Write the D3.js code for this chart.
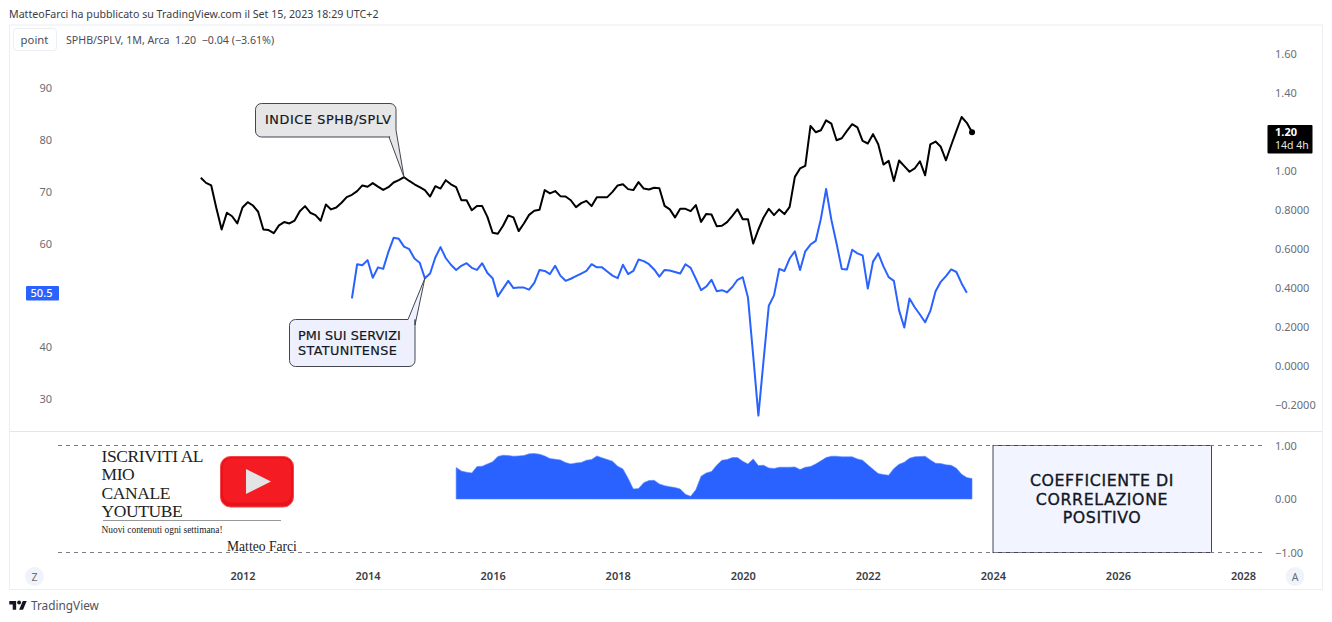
<!DOCTYPE html>
<html>
<head>
<meta charset="utf-8">
<script src="https://cdn.jsdelivr.net/npm/d3@7"></script>
<style>
  html, body { margin: 0; padding: 0; background: #fff; }
  svg { display: block; }
  text { font-family: "Noto Sans", sans-serif; }
  .serif { font-family: "Liberation Serif", serif; }
  .note { font-family: "DejaVu Sans", sans-serif; }
  .domain { display: none; }
</style>
</head>
<body>
<div id="chart"></div>
<script>
// months are counted from Jan 2012
const ratioStart = -8, pmiStart = 21, corrStart = 41

// SPHB/SPLV monthly close
const ratio = [0.965,0.939,0.926,0.808,0.700,0.786,0.768,0.731,0.813,0.840,0.823,0.791,0.700,0.697,0.681,0.721,0.738,0.731,0.746,0.794,
  0.820,0.786,0.774,0.745,0.828,0.803,0.813,0.837,0.866,0.878,0.897,0.926,0.919,0.938,0.920,0.903,0.917,0.941,0.953,0.968,
  0.949,0.932,0.917,0.902,0.869,0.922,0.910,0.953,0.932,0.917,0.850,0.850,0.799,0.821,0.820,0.765,0.683,0.678,0.719,0.772,
  0.762,0.692,0.731,0.775,0.796,0.801,0.902,0.885,0.897,0.871,0.869,0.850,0.815,0.835,0.847,0.820,0.866,0.866,0.866,0.893,
  0.926,0.932,0.907,0.902,0.943,0.910,0.905,0.914,0.912,0.821,0.803,0.762,0.806,0.806,0.794,0.825,0.739,0.780,0.777,0.717,
  0.719,0.738,0.770,0.804,0.753,0.753,0.628,0.700,0.762,0.806,0.774,0.803,0.779,0.816,0.970,1.013,1.026,1.231,1.199,1.209,
  1.260,1.243,1.158,1.168,1.206,1.240,1.224,1.154,1.141,1.189,1.137,1.033,1.052,0.949,1.054,1.025,0.996,1.013,1.050,0.978,
  1.137,1.151,1.124,1.055,1.132,1.206,1.277,1.247,1.199]

// PMI servizi USA
const pmi = [49.4,56.0,55.8,56.8,53.4,55.4,55.1,58.4,61.1,60.9,59.4,58.9,57.1,56.3,53.3,54.2,57.3,59.3,57.2,55.9,
  54.9,55.7,56.2,55.3,54.9,56.2,54.3,53.3,49.8,51.3,52.8,51.4,51.5,51.5,51.1,52.4,54.9,54.7,54.1,55.7,
  53.8,52.8,53.2,53.7,54.2,54.7,56.0,55.4,55.4,54.6,53.8,53.3,55.9,54.1,54.7,56.9,56.6,56.0,55.0,53.6,
  54.9,54.8,54.5,54.2,56.0,55.3,53.2,51.0,51.7,53.0,50.8,51.0,50.6,51.6,53.0,53.5,49.6,38.4,26.8,37.5,
  48.0,50.0,55.1,54.7,57.1,58.5,54.9,58.5,59.8,60.5,64.8,70.5,64.6,60.0,55.1,55.0,58.8,58.1,57.7,51.3,
  56.5,58.1,55.6,53.5,52.8,47.1,43.8,49.4,47.7,46.3,44.8,47.0,50.8,52.6,53.7,55.0,54.5,52.3,50.5]

// coefficiente di correlazione
const corr = [0.588,0.525,0.500,0.488,0.606,0.613,0.656,0.694,0.794,0.819,0.813,0.800,0.806,0.813,0.844,0.850,0.838,0.806,0.756,0.744,
  0.731,0.681,0.656,0.675,0.681,0.725,0.738,0.806,0.769,0.738,0.706,0.613,0.563,0.388,0.188,0.194,0.306,0.344,0.350,0.281,
  0.250,0.231,0.213,0.188,0.088,0.050,0.175,0.425,0.488,0.513,0.631,0.725,0.738,0.775,0.775,0.706,0.656,0.750,0.625,0.631,
  0.581,0.569,0.594,0.594,0.594,0.600,0.550,0.594,0.606,0.656,0.713,0.775,0.800,0.800,0.788,0.788,0.788,0.750,0.725,0.638,
  0.556,0.475,0.456,0.444,0.569,0.650,0.688,0.763,0.788,0.794,0.800,0.731,0.669,0.663,0.638,0.631,0.575,0.463,0.400,0.381]

const years = [2012,2014,2016,2018,2020,2022,2024,2026,2028]
const leftTicks = [90,80,70,60,40,30]
const rightTicks = [1.6,1.4,1.0,0.8,0.6,0.4,0.2,0,-0.2]
const rightLabels = ["1.60","1.40","1.00","0.8000","0.6000","0.4000","0.2000","0.0000","\u22120.2000"]
const corrTicks = [1,0,-1]
const corrLabels = ["1.00","0.00","\u22121.00"]

const BLUE = "#2962ff", GREY = "#6a6d78", DARK = "#131722"
const W = 1332, H = 622

const svg = d3.select("#chart").append("svg").attr("width", W).attr("height", H)

const x = d3.scaleLinear().domain([0, 192]).range([242.5, 1243])
const yRatio = d3.scaleLinear().domain([-0.2, 1.6]).range([405, 54])
const yPmi = d3.scaleLinear().domain([30, 90]).range([399, 88])
const yCorr = d3.scaleLinear().domain([-1, 1]).range([552.5, 445.5])

// header + frame
svg.append("text").attr("x", 9).attr("y", 18).attr("font-size", 10.65).attr("fill", "#3a3d47")
  .text("MatteoFarci ha pubblicato su TradingView.com il Set 15, 2023 18:29 UTC+2")
svg.append("rect").attr("x", 9.5).attr("y", 25).attr("width", 1313).attr("height", 564.5)
  .attr("fill", "none").attr("stroke", "#eceef3")
svg.append("line").attr("x1", 10).attr("x2", 1322).attr("y1", 431.5).attr("y2", 431.5).attr("stroke", "#e4e6ec")

svg.append("rect").attr("x", 13.5).attr("y", 28.5).attr("width", 43).attr("height", 22).attr("rx", 3)
  .attr("fill", "#fff").attr("stroke", "#eceef3")
svg.append("text").attr("x", 34.5).attr("y", 44).attr("text-anchor", "middle").attr("font-size", 11.3).attr("fill", "#4a4d58").text("point")
svg.append("text").attr("x", 66).attr("y", 44).attr("font-size", 10.65).attr("fill", "#4a4d58").attr("xml:space", "preserve")
  .text("SPHB/SPLV, 1M, Arca  1.20  \u22120.04 (\u22123.61%)")

// axes
svg.append("g").attr("transform", "translate(0,576)")
  .call(d3.axisBottom(x).tickValues(years.map(d => (d - 2012) * 12)).tickFormat((d, i) => years[i]).tickSize(0).tickPadding(0))
  .call(g => g.selectAll("text").attr("dy", "0.35em").attr("font-size", 11).attr("font-weight", 600).attr("fill", "#3a3d47").style("font-family", '"Noto Sans"'))

svg.append("g").attr("transform", "translate(1275,0)")
  .call(d3.axisRight(yRatio).tickValues(rightTicks).tickFormat((d, i) => rightLabels[i]).tickSize(0).tickPadding(0))
  .call(g => g.selectAll("text").attr("font-size", 11).attr("fill", GREY).style("font-family", '"Noto Sans"'))

svg.append("g").attr("transform", "translate(1275,0)")
  .call(d3.axisRight(yCorr).tickValues(corrTicks).tickFormat((d, i) => corrLabels[i]).tickSize(0).tickPadding(0))
  .call(g => g.selectAll("text").attr("font-size", 11).attr("fill", GREY).style("font-family", '"Noto Sans"'))

svg.append("g").attr("transform", "translate(52,0)")
  .call(d3.axisLeft(yPmi).tickValues(leftTicks).tickSize(0).tickPadding(0))
  .call(g => g.selectAll("text").attr("font-size", 11).attr("fill", GREY).style("font-family", '"Noto Sans"'))

// box on the right, the dashed limits run over it
svg.append("rect").attr("x", 993).attr("y", 445.5).attr("width", 218.5).attr("height", 107)
  .attr("fill", "#f2f5ff").attr("stroke", "#434651")
const boxLines = ["COEFFICIENTE DI", "CORRELAZIONE", "POSITIVO"]
svg.selectAll("text.box").data(boxLines).enter().append("text")
  .attr("class", "box note")
  .attr("x", 1102).attr("y", (d, i) => 486 + i * 18.5)
  .attr("text-anchor", "middle").attr("font-size", 15.8).attr("letter-spacing", 0.6)
  .attr("fill", DARK).attr("stroke", DARK).attr("stroke-width", 0.35)
  .text(d => d)

// correlation pane
svg.selectAll("line.lim").data(corrTicks.filter(d => d != 0)).enter().append("line")
  .attr("class", "lim")
  .attr("x1", 58).attr("x2", 1264)
  .attr("y1", d => yCorr(d)).attr("y2", d => yCorr(d))
  .attr("stroke", "#787b86").attr("stroke-dasharray", "4 4")

const area = d3.area()
  .x((d, i) => x(corrStart + i))
  .y0(yCorr(0))
  .y1(d => yCorr(d))
svg.append("path").datum(corr).attr("d", area).attr("fill", BLUE).attr("stroke", "#5d87ff").attr("stroke-width", 0.6)

// series
const ratioLine = d3.line().x((d, i) => x(ratioStart + i)).y(d => yRatio(d))
const pmiLine = d3.line().x((d, i) => x(pmiStart + i)).y(d => yPmi(d))

svg.append("path").datum(pmi).attr("d", pmiLine).attr("fill", "none").attr("stroke", BLUE).attr("stroke-width", 2).attr("stroke-linejoin", "round")
svg.append("path").datum(ratio).attr("d", ratioLine).attr("fill", "none").attr("stroke", "#000").attr("stroke-width", 2).attr("stroke-linejoin", "round")
svg.append("circle").attr("cx", x(ratioStart + ratio.length - 1)).attr("cy", yRatio(ratio[ratio.length - 1])).attr("r", 3).attr("fill", "#000")

// last value badges
svg.append("rect").attr("x", 1267.5).attr("y", 125).attr("width", 45).attr("height", 28.5).attr("rx", 1).attr("fill", "#000")
svg.append("text").attr("x", 1275).attr("y", 136).attr("font-size", 11).attr("font-weight", 700).attr("fill", "#fff").text("1.20")
svg.append("text").attr("x", 1275).attr("y", 149).attr("font-size", 10.5).attr("fill", "#e6e6e6").text("14d 4h")
svg.append("rect").attr("x", 26).attr("y", 286).attr("width", 33).attr("height", 14.5).attr("rx", 1).attr("fill", BLUE)
svg.append("text").attr("x", 41.5).attr("y", 297).attr("text-anchor", "middle").attr("font-size", 11).attr("font-weight", 500).attr("fill", "#fff").text("50.5")

// callouts, tail tips sit on the series
function callout(x0, y0, x1, y1, tail, fill) {
  const r = 6
  const p = d3.path()
  p.moveTo(x0 + r, y0)
  if (tail.side == "top") { p.lineTo(tail.a[0], tail.a[1]); p.lineTo(tail.tip[0], tail.tip[1]); p.lineTo(tail.b[0], tail.b[1]) }
  else p.lineTo(x1 - r, y0)
  p.arcTo(x1, y0, x1, y0 + r, r)
  if (tail.side == "right") { p.lineTo(tail.a[0], tail.a[1]); p.lineTo(tail.tip[0], tail.tip[1]); p.lineTo(tail.b[0], tail.b[1]); p.lineTo(x1 - r, y1) }
  else { p.lineTo(x1, y1 - r); p.arcTo(x1, y1, x1 - r, y1, r) }
  p.lineTo(x0 + r, y1)
  p.arcTo(x0, y1, x0, y1 - r, r)
  p.lineTo(x0, y0 + r)
  p.arcTo(x0, y0, x0 + r, y0, r)
  p.closePath()
  svg.append("path").attr("d", p.toString()).attr("fill", fill).attr("stroke", "#434651").attr("stroke-width", 1)
}

function calloutText(t, tx, ty, spacing) {
  svg.append("text").attr("class", "note").attr("x", tx).attr("y", ty)
    .attr("font-size", 12.8).attr("letter-spacing", spacing)
    .attr("fill", DARK).attr("stroke", DARK).attr("stroke-width", 0.2).text(t)
}

callout(255.5, 103.5, 396, 137, {side: "right", a: [396, 130], tip: [x(ratioStart + 39), yRatio(ratio[39])], b: [389, 137]}, "#e6e6e6")
calloutText("INDICE SPHB/SPLV", 265, 124, 0.6)

callout(289.5, 319.5, 415, 366.5, {side: "top", a: [408, 319.5], tip: [x(pmiStart + 14), yPmi(pmi[14])], b: [415, 325]}, "#eef1fd")
calloutText("PMI SUI SERVIZI", 298, 340, 0.1)
calloutText("STATUNITENSE", 298, 355, 0.35)

// youtube banner
const bannerLines = ["ISCRIVITI AL", "MIO", "CANALE", "YOUTUBE"]
svg.selectAll("text.banner").data(bannerLines).enter().append("text")
  .attr("class", "banner serif")
  .attr("x", 101.5).attr("y", (d, i) => 461.5 + i * 18.5)
  .attr("font-size", 17.5).attr("letter-spacing", -0.4).attr("fill", "#222").text(d => d)
svg.append("line").attr("x1", 103).attr("x2", 281).attr("y1", 520.5).attr("y2", 520.5).attr("stroke", "#999")
svg.append("text").attr("class", "serif").attr("x", 101.5).attr("y", 533).attr("font-size", 9.4).attr("fill", "#222").text("Nuovi contenuti ogni settimana!")
svg.append("text").attr("class", "serif").attr("x", 227).attr("y", 551).attr("font-size", 13.6).attr("fill", "#222").text("Matteo Farci")
svg.append("rect").attr("x", 220.5).attr("y", 456.5).attr("width", 73).attr("height", 50.5).attr("rx", 10).attr("fill", "#e8121a").attr("stroke", "#f5474b")
svg.append("rect").attr("x", 223).attr("y", 458.5).attr("width", 68).attr("height", 44).attr("rx", 8).attr("fill", "#f41c22")
svg.append("path").attr("d", "M246,469L271,481.5L246,494Z").attr("fill", "#e4e4e6")

// Z / A buttons
const buttons = [{t: "Z", cx: 34.5}, {t: "A", cx: 1295}]
svg.selectAll("circle.btn").data(buttons).enter().append("circle")
  .attr("class", "btn").attr("cx", d => d.cx).attr("cy", 576.5).attr("r", 9.5).attr("fill", "#f0f3fa")
svg.selectAll("text.btn").data(buttons).enter().append("text")
  .attr("class", "btn").attr("x", d => d.cx).attr("y", 580.5).attr("text-anchor", "middle").attr("font-size", 10.5).attr("fill", GREY).text(d => d.t)

// footer logo
svg.append("g").attr("transform", "translate(9.3,599) scale(0.49)")
  .call(g => {
    g.append("path").attr("d", "M14 22H7V11H0V4h14v18zM28 22h-8l7.5-18h8L28 22z").attr("fill", "#131722")
    g.append("circle").attr("cx", 20).attr("cy", 7).attr("r", 4).attr("fill", "#131722")
  })
svg.append("text").attr("x", 31).attr("y", 610).attr("font-size", 11.8).attr("fill", "#50535e").text("TradingView")
</script>
</body>
</html>
